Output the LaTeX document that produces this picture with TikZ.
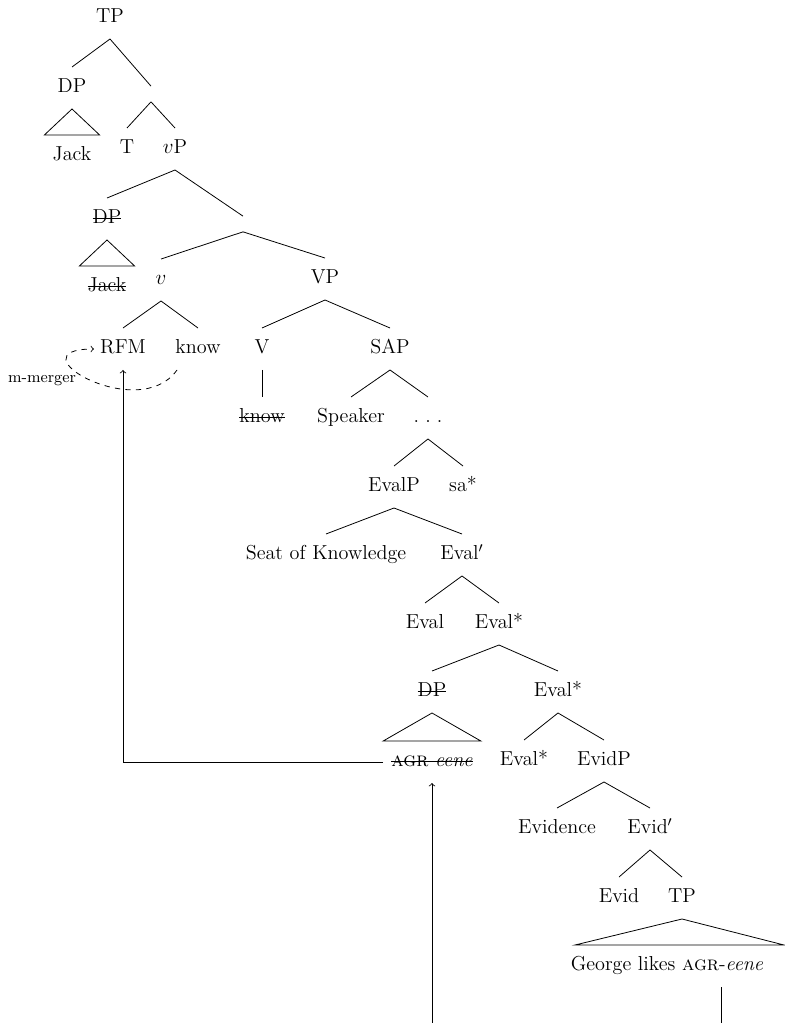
\documentclass[tikz,border=0pt]{standalone}

\newcommand{\struck}[1]{\setbox0\hbox{#1}\rlap{\rule[0.55ex]{\wd0}{0.4pt}}\box0}

\begin{document}
\begin{tikzpicture}[
            x=0.02cm, y=0.02cm,
            lbl/.style={font=\fontsize{11.5}{14}\selectfont, inner ysep=6.5pt, text height=8pt, text depth=2.5pt},
            leaf/.style={lbl, inner xsep=4.5pt},
            gap/.style={inner sep=0pt, minimum size=0.3cm},
            branch/.style={line width=0.45pt},
            move/.style={->, line width=0.45pt},
            merger/.style={->, dashed, line width=0.45pt}
            ]
            \useasboundingbox (0,0) rectangle (784,-1023);

            % Upper tree
            \node[lbl] (tp) at (110,-18) {TP};
            \node[lbl] (dp) at (72,-88) {DP};
            \node[leaf] (jack) at (72,-156) {Jack};
            \node[gap] (e1) at (151,-94) {};
            \node[lbl] (t) at (127,-149) {T};
            \node[lbl] (vp) at (175,-149) {$v$P};
            \node[lbl] (dp2) at (107,-219) {\struck{DP}};
            \node[leaf] (jack2) at (107,-287) {\struck{Jack}};
            \node[gap] (e2) at (243,-224) {};
            \node[lbl] (v) at (161,-280) {$v$};
            \node[lbl] (vpp) at (325,-279) {VP};
            \node[lbl] (rfm) at (123,-349) {RFM};
            \node[lbl] (know) at (198,-349) {know};
            \node[lbl] (vv) at (262,-349) {V};
            \node[lbl] (sap) at (390,-349) {SAP};
            \node[lbl] (know2) at (262,-418) {\struck{know}};
            \node[lbl] (speaker) at (351,-418) {Speaker};
            \node[lbl] (dots) at (428,-418) {.\kern0.3em.\kern0.3em.};

            % Evaluative layer
            \node[lbl] (evalp) at (394,-487) {EvalP};
            \node[lbl] (sa) at (463,-487) {sa*};
            \node[lbl] (seat) at (326,-555) {Seat of Knowledge};
            \node[lbl] (evalbar) at (462,-555) {Eval$'$};
            \node[lbl] (eval) at (425,-624) {Eval};
            \node[lbl] (evalsa) at (499,-624) {Eval*};
            \node[lbl] (dp3) at (432,-692) {\struck{DP}};
            \node[lbl] (evalsb) at (558,-692) {Eval*};
            \node[leaf] (agr) at (432,-762) {\struck{\textsc{agr} \textit{eene}}};
            \node[lbl] (evalsc) at (524,-761) {Eval*};
            \node[lbl] (evidp) at (604,-761) {EvidP};

            % Evidential layer
            \node[lbl] (evidence) at (557,-829) {Evidence};
            \node[lbl] (evidbar) at (650,-829) {Evid$'$};
            \node[lbl] (evid) at (619,-898) {Evid};
            \node[lbl] (tp2) at (682,-898) {TP};
            \node[leaf] (george) at (667,-966) {George likes \textsc{agr}-\textit{eene}};

            % Branches
            \foreach \a/\b in {tp/dp, tp/e1, e1/t, e1/vp, vp/dp2, vp/e2, e2/v, e2/vpp,
                               v/rfm, v/know, vpp/vv, vpp/sap, vv/know2, sap/speaker, sap/dots,
                               dots/evalp, dots/sa, evalp/seat, evalp/evalbar, evalbar/eval, evalbar/evalsa,
                               evalsa/dp3, evalsa/evalsb, evalsb/evalsc, evalsb/evidp,
                               evidp/evidence, evidp/evidbar, evidbar/evid, evidbar/tp2}
                \draw[branch] (\a.south) -- (\b.north);

            % Triangles
            \draw[branch] (dp.south) -- (jack.north west) -- (jack.north east) -- cycle;
            \draw[branch] (dp2.south) -- (jack2.north west) -- (jack2.north east) -- cycle;
            \draw[branch] (dp3.south) -- (agr.north west) -- (agr.north east) -- cycle;
            \draw[branch] (tp2.south) -- ++(-107,-26) -- ++(209,0) -- cycle;

            % Movement
            \draw[move] (agr.west) -| (rfm.south);
            \draw[move] ([xshift=1.08cm]george.south) -- ++(0,-80) -| (agr.south);
            \draw[merger] (know.225) to[out=235, in=180, out looseness=2, in looseness=2.5] (rfm.west);
            \node[font=\fontsize{9}{11}\selectfont, inner sep=1pt] (mlabel) at (42,-381) {m-merger};

        \end{tikzpicture}
\end{document}
